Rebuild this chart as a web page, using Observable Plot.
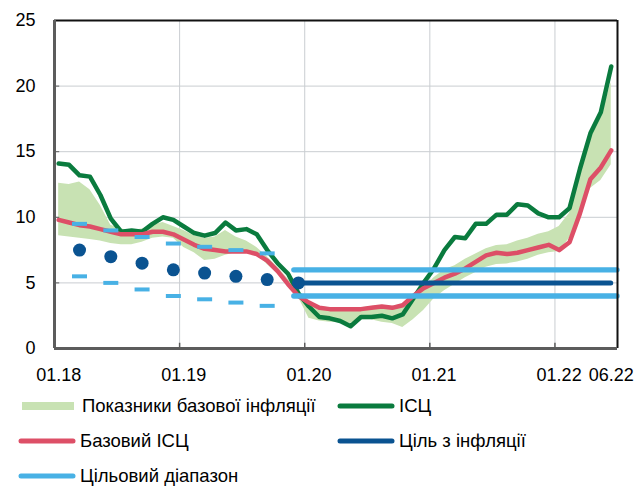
<!DOCTYPE html>
<html>
<head>
<meta charset="utf-8">
<script src="https://cdn.jsdelivr.net/npm/d3@7"></script>
<script src="https://cdn.jsdelivr.net/npm/@observablehq/plot@0.6"></script>
<style>
  body { margin: 0; background: #fff; font-family: "Liberation Sans", Arial, sans-serif; }
  #wrap { position: relative; width: 638px; height: 486px; overflow: hidden; background: #fff; }
  #legend { position: absolute; left: 0; top: 0; width: 638px; height: 486px; pointer-events: none; }
  .item { position: absolute; display: flex; align-items: center; font-size: 18.5px; color: #000; white-space: nowrap; line-height: 1; }
  .item svg { margin-right: 4px; }
</style>
</head>
<body>
<div id="wrap"><div id="chart"></div><div id="legend"></div></div>
<script>
// ---- Data (monthly, 01.2018 – 06.2022) ----
const cpi = [
  14.1, 14.0, 13.2, 13.1, 11.7, 9.9, 8.9, 9.0, 8.9, 9.5, 10.0, 9.8,
  9.3, 8.8, 8.6, 8.8, 9.6, 9.0, 9.1, 8.7, 7.5, 6.5, 5.7, 4.2,
  3.2, 2.4, 2.3, 2.1, 1.7, 2.4, 2.4, 2.5, 2.3, 2.6, 3.8, 5.0,
  6.1, 7.5, 8.5, 8.4, 9.5, 9.5, 10.2, 10.2, 11.0, 10.9, 10.3, 10.0,
  10.0, 10.7, 13.7, 16.4, 18.0, 21.5
];
const coreCpi = [
  9.8, 9.6, 9.4, 9.3, 9.1, 8.9, 8.7, 8.7, 8.7, 8.9, 8.9, 8.7,
  8.3, 7.9, 7.6, 7.5, 7.4, 7.4, 7.4, 7.2, 6.7, 5.9, 4.9, 4.0,
  3.5, 3.1, 3.0, 3.0, 3.0, 3.0, 3.1, 3.2, 3.1, 3.3, 4.0, 4.6,
  5.0, 5.4, 5.7, 6.1, 6.6, 7.1, 7.3, 7.2, 7.3, 7.5, 7.7, 7.9,
  7.5, 8.1, 10.3, 12.9, 13.8, 15.1
];
const coreBandHigh = [
  12.6, 12.5, 12.7, 12.1, 10.9, 9.4, 9.1, 9.0, 9.1, 9.4, 9.6, 9.3,
  9.0, 8.6, 8.4, 8.5, 9.0, 8.5, 8.2, 7.7, 7.0, 6.2, 5.3, 4.4,
  3.6, 3.2, 3.1, 3.1, 3.1, 3.1, 3.2, 3.3, 3.2, 3.4, 4.0, 4.6,
  5.4, 6.0, 6.3, 6.8, 7.2, 7.6, 7.85, 7.9, 8.2, 8.4, 8.7, 8.9,
  9.3, 10.3, 13.4, 16.2, 17.6, 20.3
];
const coreBandLow = [
  8.6, 8.5, 8.4, 8.3, 8.2, 8.0, 7.9, 7.9, 8.1, 8.4, 8.5, 8.4,
  7.7, 7.3, 6.7, 6.8, 7.1, 7.3, 7.3, 7.2, 6.4, 5.7, 4.9, 3.9,
  2.3, 2.1, 2.0, 2.0, 1.9, 2.2, 2.2, 2.0, 1.9, 1.6, 2.2, 2.9,
  3.8, 4.4, 4.9, 5.4, 5.8, 6.2, 6.4, 6.45, 6.6, 6.8, 7.1, 7.3,
  7.4, 8.4, 10.2, 12.2, 12.8, 14.0
];
// Inflation target path (quarter ends, 2018–2019) and its ±2 pp range
const targetMonths = [2, 5, 8, 11, 14, 17, 20, 23];
const targetValues = [7.5, 7.0, 6.5, 6.0, 5.75, 5.5, 5.25, 5.0];
const rangeMonths = [2, 5, 8, 11, 14, 17, 20];
const rangeUpper = [9.5, 9.0, 8.5, 8.0, 7.75, 7.5, 7.25];
const rangeLower = [5.5, 5.0, 4.5, 4.0, 3.75, 3.5, 3.25];
// From 12.2019 on: target 5% ± 1 pp
const targetFromMonth = 23;
const lastMonth = 53;
const targetConst = [5];
const rangeConst = [4, 6];
// Axis ticks
const xTickMonths = [0, 12, 24, 36, 48, 53];
const xTickLabels = ["01.18", "01.19", "01.20", "01.21", "01.22", "06.22"];
const yTicks = [0, 5, 10, 15, 20, 25];
const legendLabels = ["Показники базової інфляції", "ІСЦ", "Базовий ІСЦ", "Ціль з інфляції", "Цільовий діапазон"];

// ---- Styles ----
const C = {
  green: "#0a7b3e", pink: "#dd4f67", band: "#c8e2b3",
  dark: "#0a5391", light: "#48b1e5", grid: "#c9cdd1", axis: "#5c5c5c"
};
const OFF = 0.4; // data points sit slightly right of the month tick

const series = cpi.map((v, i) => ({ x: i + OFF, cpi: v, core: coreCpi[i], hi: coreBandHigh[i], lo: coreBandLow[i] }));
const targets = targetMonths.map((m, i) => ({ x: m + OFF, y: targetValues[i] }));
const dashes = rangeMonths.flatMap((m, i) => [{ x: m + OFF, y: rangeUpper[i] }, { x: m + OFF, y: rangeLower[i] }]);
const labelAt = new Map(xTickMonths.map((m, i) => [m + OFF, xTickLabels[i]]));

const dashSymbol = { draw(ctx) { ctx.rect(-7.5, -2, 15, 4); } };

const chart = Plot.plot({
  width: 638, height: 390,
  marginLeft: 54, marginRight: 21, marginTop: 20, marginBottom: 42,
  x: { domain: [0, 54], axis: null },
  y: { domain: [0, 25], axis: null },
  style: { fontFamily: '"Liberation Sans", Arial, sans-serif', fontSize: "18px", color: "#000", background: "#fff", overflow: "visible" },
  marks: [
    Plot.gridY([5, 10, 15, 20], { stroke: C.grid, strokeOpacity: 1, strokeWidth: 1 }),
    Plot.gridX([12, 24, 36, 48], { stroke: C.grid, strokeOpacity: 1, strokeWidth: 1 }),
    Plot.areaY(series, { x: "x", y1: "lo", y2: "hi", fill: C.band }),
    Plot.line(series, { x: "x", y: "cpi", stroke: C.green, strokeWidth: 4.5, strokeLinejoin: "round", strokeLinecap: "round" }),
    Plot.line(series, { x: "x", y: "core", stroke: C.pink, strokeWidth: 4.5, strokeLinejoin: "round", strokeLinecap: "round" }),
    Plot.dot(dashes, { x: "x", y: "y", symbol: dashSymbol, fill: C.light, stroke: "none", r: 4 }),
    Plot.ruleY(rangeConst, { x1: targetFromMonth, x2: 54, stroke: C.light, strokeWidth: 5.3, strokeLinecap: "round" }),
    Plot.ruleY(targetConst, { x1: targetFromMonth + OFF, x2: lastMonth + OFF, stroke: C.dark, strokeWidth: 5, strokeLinecap: "round" }),
    Plot.dot(targets, { x: "x", y: "y", r: 6.5, fill: C.dark, stroke: "none" }),
    // inward ticks
    Plot.ruleY([5, 10, 15, 20], { x1: 0, x2: 0.5, stroke: C.axis, strokeWidth: 1 }),
    Plot.ruleX([12, 24, 36, 48], { y1: 0, y2: 0.4, stroke: C.axis, strokeWidth: 1.5 }),
    // frame
    Plot.ruleY([25], { stroke: "#111", strokeWidth: 2 }),
    Plot.ruleX([54], { stroke: "#111", strokeWidth: 2 }),
    Plot.ruleX([0], { stroke: C.axis, strokeWidth: 3 }),
    Plot.ruleY([0], { stroke: C.axis, strokeWidth: 3 }),
    Plot.axisY(yTicks, { tickSize: 0, tickPadding: 19, fontSize: 18, label: null }),
    Plot.axisX(xTickMonths.map(m => m + OFF), { tickSize: 0, tickPadding: 20, fontSize: 18, label: null, tickFormat: d => labelAt.get(d) })
  ]
});
document.getElementById("chart").appendChild(chart);

// ---- Legend (below the plot) ----
function swatch(kind, color) {
  const ns = "http://www.w3.org/2000/svg";
  const s = document.createElementNS(ns, "svg");
  s.setAttribute("width", 58); s.setAttribute("height", 12);
  if (kind === "rect") {
    const r = document.createElementNS(ns, "rect");
    r.setAttribute("x", 2); r.setAttribute("y", 2); r.setAttribute("width", 52); r.setAttribute("height", 8);
    r.setAttribute("fill", color); s.appendChild(r);
  } else {
    const l = document.createElementNS(ns, "line");
    l.setAttribute("x1", 3); l.setAttribute("x2", 55); l.setAttribute("y1", 6); l.setAttribute("y2", 6);
    l.setAttribute("stroke", color); l.setAttribute("stroke-width", 5); l.setAttribute("stroke-linecap", "round");
    s.appendChild(l);
  }
  return s;
}
const legendItems = [
  { label: legendLabels[0], kind: "rect", color: C.band, left: 20, cy: 406 },
  { label: legendLabels[1], kind: "line", color: C.green, left: 337, cy: 406 },
  { label: legendLabels[2], kind: "line", color: C.pink, left: 18, cy: 441 },
  { label: legendLabels[3], kind: "line", color: C.dark, left: 337, cy: 441 },
  { label: legendLabels[4], kind: "line", color: C.light, left: 18, cy: 476 }
];
const leg = document.getElementById("legend");
legendItems.forEach(it => {
  const d = document.createElement("div");
  d.className = "item";
  d.style.left = it.left + "px";
  d.style.top = (it.cy - 11) + "px";
  d.style.height = "22px";
  d.appendChild(swatch(it.kind, it.color));
  const t = document.createElement("span");
  t.textContent = it.label;
  d.appendChild(t);
  leg.appendChild(d);
});
</script>
</body>
</html>
